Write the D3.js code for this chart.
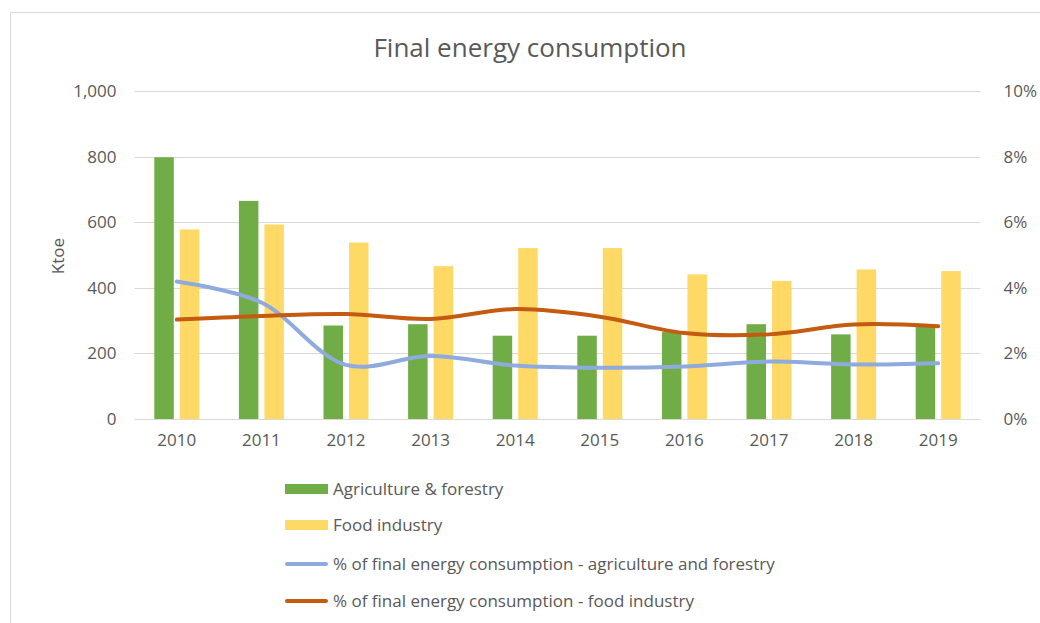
<!DOCTYPE html>
<html>
<head>
<meta charset="utf-8">
<script src="https://cdn.jsdelivr.net/npm/d3@7"></script>
<style>
  body { margin: 0; background: #fff; }
  text { font-family: "Open Sans", "DejaVu Sans", sans-serif; fill: #595959; }
</style>
</head>
<body>
<div id="chart"></div>
<script>
// Data
var years = ["2010", "2011", "2012", "2013", "2014", "2015", "2016", "2017", "2018", "2019"];
var agriculture = [798, 665, 285, 289, 254, 254, 265, 289, 258, 281];
var foodIndustry = [578, 593, 538, 466, 521, 521, 441, 421, 456, 451];
var pctAgriculture = [4.19, 3.55, 1.65, 1.92, 1.63, 1.56, 1.60, 1.75, 1.66, 1.70];
var pctFood = [3.03, 3.14, 3.20, 3.05, 3.35, 3.12, 2.62, 2.58, 2.88, 2.83];
var leftTicks = [0, 200, 400, 600, 800, 1000];
var rightTicks = [0, 2, 4, 6, 8, 10];
var legendNames = [
  "Agriculture & forestry",
  "Food industry",
  "% of final energy consumption - agriculture and forestry",
  "% of final energy consumption - food industry"
];

var W = 1040, H = 623;
var plot = { left: 134.5, right: 980.5, top: 91, bottom: 419 };

var svg = d3.select("#chart").append("svg")
  .attr("width", W)
  .attr("height", H);

// Chart frame (only top and left edges visible)
svg.append("path")
  .attr("d", "M10.5 " + H + " V12.5 H" + W)
  .style("fill", "none")
  .style("stroke", "#d9d9d9")
  .style("stroke-width", 1);

// Title
svg.append("text")
  .attr("x", 530)
  .attr("y", 57)
  .attr("text-anchor", "middle")
  .style("font-size", "26px")
  .style("fill", "#595959")
  .text("Final energy consumption");

var x = d3.scaleBand()
  .domain(years)
  .range([plot.left, plot.right]);

var yLeft = d3.scaleLinear()
  .domain([0, 1000])
  .range([plot.bottom, plot.top]);

var yRight = d3.scaleLinear()
  .domain([0, 10])
  .range([plot.bottom, plot.top]);

// Gridlines
svg.append("g")
  .selectAll("line")
  .data(leftTicks)
  .join("line")
  .attr("x1", plot.left)
  .attr("x2", plot.right)
  .attr("y1", function(d) { return Math.round(yLeft(d)) + 0.5; })
  .attr("y2", function(d) { return Math.round(yLeft(d)) + 0.5; })
  .style("stroke", "#d9d9d9")
  .style("stroke-width", 1);

// Left axis
var leftAxis = svg.append("g")
  .attr("transform", "translate(" + plot.left + ",0)")
  .call(d3.axisLeft(yLeft).tickValues(leftTicks).tickSize(0).tickPadding(18).tickFormat(d3.format(",")));
leftAxis.select(".domain").remove();
leftAxis.selectAll("text").style("font-size", "17px").style("fill", "#595959").style("font-family", null);

// Right axis
var rightAxis = svg.append("g")
  .attr("transform", "translate(" + plot.right + ",0)")
  .call(d3.axisRight(yRight).tickValues(rightTicks).tickSize(0).tickPadding(23).tickFormat(function(d) { return d + "%"; }));
rightAxis.select(".domain").remove();
rightAxis.selectAll("text").style("font-size", "17px").style("fill", "#595959").style("font-family", null);

// Bottom axis labels
var bottomAxis = svg.append("g")
  .attr("transform", "translate(0," + plot.bottom + ")")
  .call(d3.axisBottom(x).tickSize(0).tickPadding(15));
bottomAxis.select(".domain").remove();
bottomAxis.selectAll("text").style("font-size", "17px").style("fill", "#595959").style("font-family", null);

// Y axis title
svg.append("text")
  .attr("transform", "translate(64,256) rotate(-90)")
  .attr("text-anchor", "middle")
  .style("font-size", "17px")
  .text("Ktoe");

// Bars
var barW = 19.5, barGap = 6;
var bars = svg.append("g");
bars.selectAll(".agri")
  .data(agriculture)
  .join("rect")
  .attr("x", function(d, i) { return x(years[i]) + x.bandwidth() / 2 - barGap / 2 - barW; })
  .attr("y", function(d) { return yLeft(d); })
  .attr("width", barW)
  .attr("height", function(d) { return yLeft(0) - yLeft(d); })
  .style("fill", "#70ad47");
bars.selectAll(".food")
  .data(foodIndustry)
  .join("rect")
  .attr("x", function(d, i) { return x(years[i]) + x.bandwidth() / 2 + barGap / 2; })
  .attr("y", function(d) { return yLeft(d); })
  .attr("width", barW)
  .attr("height", function(d) { return yLeft(0) - yLeft(d); })
  .style("fill", "#ffd966");

// Axis baseline
svg.append("line")
  .attr("x1", plot.left)
  .attr("x2", plot.right)
  .attr("y1", plot.bottom + 0.5)
  .attr("y2", plot.bottom + 0.5)
  .style("stroke", "#d9d9d9");

// Lines
var line = d3.line()
  .x(function(d, i) { return x(years[i]) + x.bandwidth() / 2; })
  .y(function(d) { return yRight(d); })
  .curve(d3.curveCatmullRom.alpha(0.5));

svg.append("path")
  .datum(pctAgriculture)
  .attr("d", line)
  .style("fill", "none")
  .style("stroke", "#8faadc")
  .style("stroke-width", 4)
  .style("stroke-linecap", "round");

svg.append("path")
  .datum(pctFood)
  .attr("d", line)
  .style("fill", "none")
  .style("stroke", "#c55a11")
  .style("stroke-width", 4)
  .style("stroke-linecap", "round");

// Legend
var legendColors = ["#70ad47", "#ffd966", "#8faadc", "#c55a11"];
var legendRows = [489, 525, 564, 601];
var legend = svg.append("g");
legendNames.forEach(function(name, i) {
  var isBar = i < 2;
  legend.append("rect")
    .attr("x", 285)
    .attr("y", legendRows[i] - (isBar ? 5 : 2))
    .attr("width", 43)
    .attr("height", isBar ? 10 : 4)
    .attr("rx", isBar ? 0 : 2)
    .style("fill", legendColors[i]);
  legend.append("text")
    .attr("x", 333)
    .attr("y", legendRows[i])
    .attr("dy", "0.35em")
    .style("font-size", "17px")
    .text(name);
});
</script>
</body>
</html>
